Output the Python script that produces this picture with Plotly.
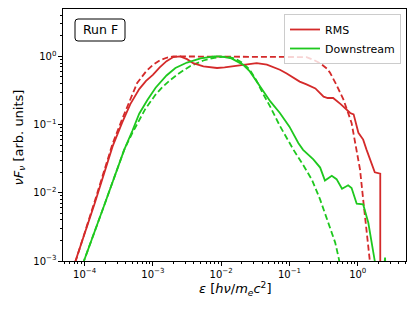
import numpy as np
import plotly.graph_objects as go

# Data, stored as log10 values
rms_solid_logx = [-4.25, -4.13, -3.85, -3.59, -3.45, -3.33, -3.20, -3.10, -3.00, -2.90, -2.80, -2.70, -2.60, -2.50,
                  -2.41, -2.26, -2.06, -1.95, -1.82, -1.62, -1.48, -1.33, -1.22, -1.14, -1.04, -0.94, -0.85,
                  -0.75, -0.62, -0.50, -0.44, -0.36, -0.25, -0.11, -0.06, 0.01, 0.08, 0.13, 0.18, 0.25, 0.33, 0.33]
rms_solid_logy = [-3.35, -3.0, -2.15, -1.32, -0.97, -0.70, -0.48, -0.36, -0.27, -0.16, -0.07, -0.01, 0.0, -0.04,
                  -0.10, -0.146, -0.17, -0.16, -0.146, -0.12, -0.10, -0.12, -0.16, -0.195, -0.25, -0.32, -0.37,
                  -0.41, -0.47, -0.59, -0.61, -0.61, -0.70, -0.83, -0.85, -1.12, -1.22, -1.37, -1.51, -1.70, -1.72, -5.0]

rms_dash_logx = [-4.25, -4.13, -3.85, -3.59, -3.45, -3.33, -3.23, -3.10, -3.00, -2.90, -2.80, -2.70, -2.0, -1.0,
                 -0.75, -0.65, -0.55, -0.45, -0.405, -0.31, -0.21, -0.09, -0.015, 0.034, 0.08, 0.13, 0.18, 0.21]
rms_dash_logy = [-3.4, -3.0, -2.12, -1.28, -0.92, -0.62, -0.39, -0.22, -0.125, -0.06, -0.02, 0.0, 0.0, 0.0,
                 -0.01, -0.05, -0.10, -0.18, -0.24, -0.42, -0.63, -0.975, -1.37, -1.66, -2.10, -2.54, -2.95, -3.3]

down_solid_logx = [-4.10, -4.01, -3.70, -3.42, -3.30, -3.20, -3.08, -2.96, -2.80, -2.67, -2.50, -2.30, -2.10,
                   -2.01, -1.85, -1.68, -1.58, -1.48, -1.38, -1.28, -1.14, -1.00, -0.87, -0.80, -0.65, -0.55,
                   -0.48, -0.38, -0.31, -0.23, -0.14, -0.09, -0.015, 0.08, 0.155, 0.25, 0.33, 0.40, 0.43]
down_solid_logy = [-3.3, -3.0, -2.15, -1.37, -1.09, -0.84, -0.64, -0.46, -0.28, -0.17, -0.09, -0.03, 0.0,
                   0.0, -0.03, -0.12, -0.22, -0.37, -0.51, -0.66, -0.83, -1.03, -1.27, -1.37, -1.51, -1.63,
                   -1.82, -1.75, -1.80, -1.94, -1.89, -1.93, -2.16, -2.17, -2.44, -3.0, -3.8, -2.95, -3.6]

down_dash_logx = [-4.10, -4.01, -3.70, -3.42, -3.30, -3.11, -2.96, -2.86, -2.75, -2.62, -2.45, -2.26, -2.10,
                  -1.92, -1.80, -1.68, -1.58, -1.48, -1.38, -1.28, -1.14, -0.94, -0.80, -0.67, -0.55, -0.43,
                  -0.33, -0.28, -0.25]
down_dash_logy = [-3.3, -3.0, -2.15, -1.37, -1.12, -0.77, -0.56, -0.45, -0.35, -0.25, -0.14, -0.06, -0.02,
                  0.0, -0.03, -0.10, -0.195, -0.36, -0.56, -0.74, -1.02, -1.37, -1.59, -1.81, -2.10, -2.44,
                  -2.73, -2.95, -3.1]

series_names = ["RMS", "Downstream"]
x_tick_vals = [1e-4, 1e-3, 1e-2, 1e-1, 1e0]
x_tick_text = ["10<sup>−4</sup>", "10<sup>−3</sup>", "10<sup>−2</sup>", "10<sup>−1</sup>", "10<sup>0</sup>"]
y_tick_vals = [1e-3, 1e-2, 1e-1, 1e0]
y_tick_text = ["10<sup>−3</sup>", "10<sup>−2</sup>", "10<sup>−1</sup>", "10<sup>0</sup>"]
minor_decades = [-5, -4, -3, -2, -1, 0]
minor_mults = [2, 3, 4, 5, 6, 7, 8, 9]

RED = "#d42a2a"
GREEN = "#1ec81e"

def p10(a):
    return list(10 ** np.array(a))

minor_vals = [m * 10.0 ** d for d in minor_decades for m in minor_mults]

fig = go.Figure()
fig.add_trace(go.Scatter(x=p10(rms_dash_logx), y=p10(rms_dash_logy), mode="lines",
                         line=dict(color=RED, width=1.8, dash="6px,3px"), showlegend=False))
fig.add_trace(go.Scatter(x=p10(down_dash_logx), y=p10(down_dash_logy), mode="lines",
                         line=dict(color=GREEN, width=1.8, dash="6px,3px"), showlegend=False))
fig.add_trace(go.Scatter(x=p10(rms_solid_logx), y=p10(rms_solid_logy), mode="lines",
                         line=dict(color=RED, width=1.8), name=series_names[0]))
fig.add_trace(go.Scatter(x=p10(down_solid_logx), y=p10(down_solid_logy), mode="lines",
                         line=dict(color=GREEN, width=1.8), name=series_names[1]))

# page body has an 8px offset; target plot area in window: x 63..406, y 9..261
OFF = 8
W, H = 407, 304
L, R, T, B = 63 - OFF, 9, 9 - OFF, 51
pw, ph = W - L - R, H - T - B

def px(xp):
    return (xp - 63) / pw

def py(yp):
    return (261 - yp) / ph

axis_common = dict(type="log", showgrid=False, zeroline=False, automargin=False,
                   showline=True, linecolor="black", linewidth=1.2, mirror=True,
                   ticks="outside", ticklen=3.5, tickwidth=1, tickcolor="black",
                   tickfont=dict(family="DejaVu Sans", size=10, color="black"),
                   minor=dict(tickvals=minor_vals, ticks="outside", ticklen=2, tickwidth=0.7,
                              tickcolor="black", showgrid=False))

fig.update_layout(
    width=W, height=H,
    margin=dict(l=L, r=R, t=T, b=B),
    paper_bgcolor="white", plot_bgcolor="white",
    font=dict(family="DejaVu Sans", color="black"),
    xaxis=dict(range=[-4.316, 0.707], tickvals=x_tick_vals, ticktext=x_tick_text, **axis_common),
    yaxis=dict(range=[-3, 0.695], tickvals=y_tick_vals, ticktext=y_tick_text, **axis_common),
    legend=dict(x=px(401), y=py(14), xanchor="right", yanchor="top",
                bgcolor="rgba(255,255,255,0.8)", bordercolor="#cccccc", borderwidth=1,
                font=dict(size=11), itemwidth=30, tracegroupgap=0),
    showlegend=True,
)

# axis titles
fig.add_annotation(text="<i>ε</i> [<i>hν</i>/<i>m</i><sub><i>e</i></sub><i>c</i><sup>2</sup>]",
                   x=px(234.5), y=py(289), xref="paper", yref="paper", xanchor="center", yanchor="middle",
                   showarrow=False, font=dict(size=13, family="DejaVu Sans", color="black"))
fig.add_annotation(text="<i>νF</i><sub><i>ν</i></sub> [arb. units]", textangle=-90,
                   x=px(18.5), y=py(138), xref="paper", yref="paper", xanchor="center", yanchor="middle",
                   showarrow=False, font=dict(size=13, family="DejaVu Sans", color="black"))

# Rounded "Run F" box
x0, x1 = px(75), px(125)
y0, y1 = py(41), py(19)
rx, ry = 3 / pw, 3 / ph
path = (f"M {x0+rx},{y0} L {x1-rx},{y0} Q {x1},{y0} {x1},{y0+ry} L {x1},{y1-ry} Q {x1},{y1} {x1-rx},{y1} "
        f"L {x0+rx},{y1} Q {x0},{y1} {x0},{y1-ry} L {x0},{y0+ry} Q {x0},{y0} {x0+rx},{y0} Z")
fig.add_shape(type="path", path=path, xref="paper", yref="paper",
              line=dict(color="black", width=1), fillcolor="white", layer="above")
fig.add_annotation(text="Run F", x=(x0 + x1) / 2, y=(y0 + y1) / 2, xref="paper", yref="paper",
                   xanchor="center", yanchor="middle",
                   showarrow=False, font=dict(size=12.5, family="DejaVu Sans", color="black"))

fig.write_html("out.html")
